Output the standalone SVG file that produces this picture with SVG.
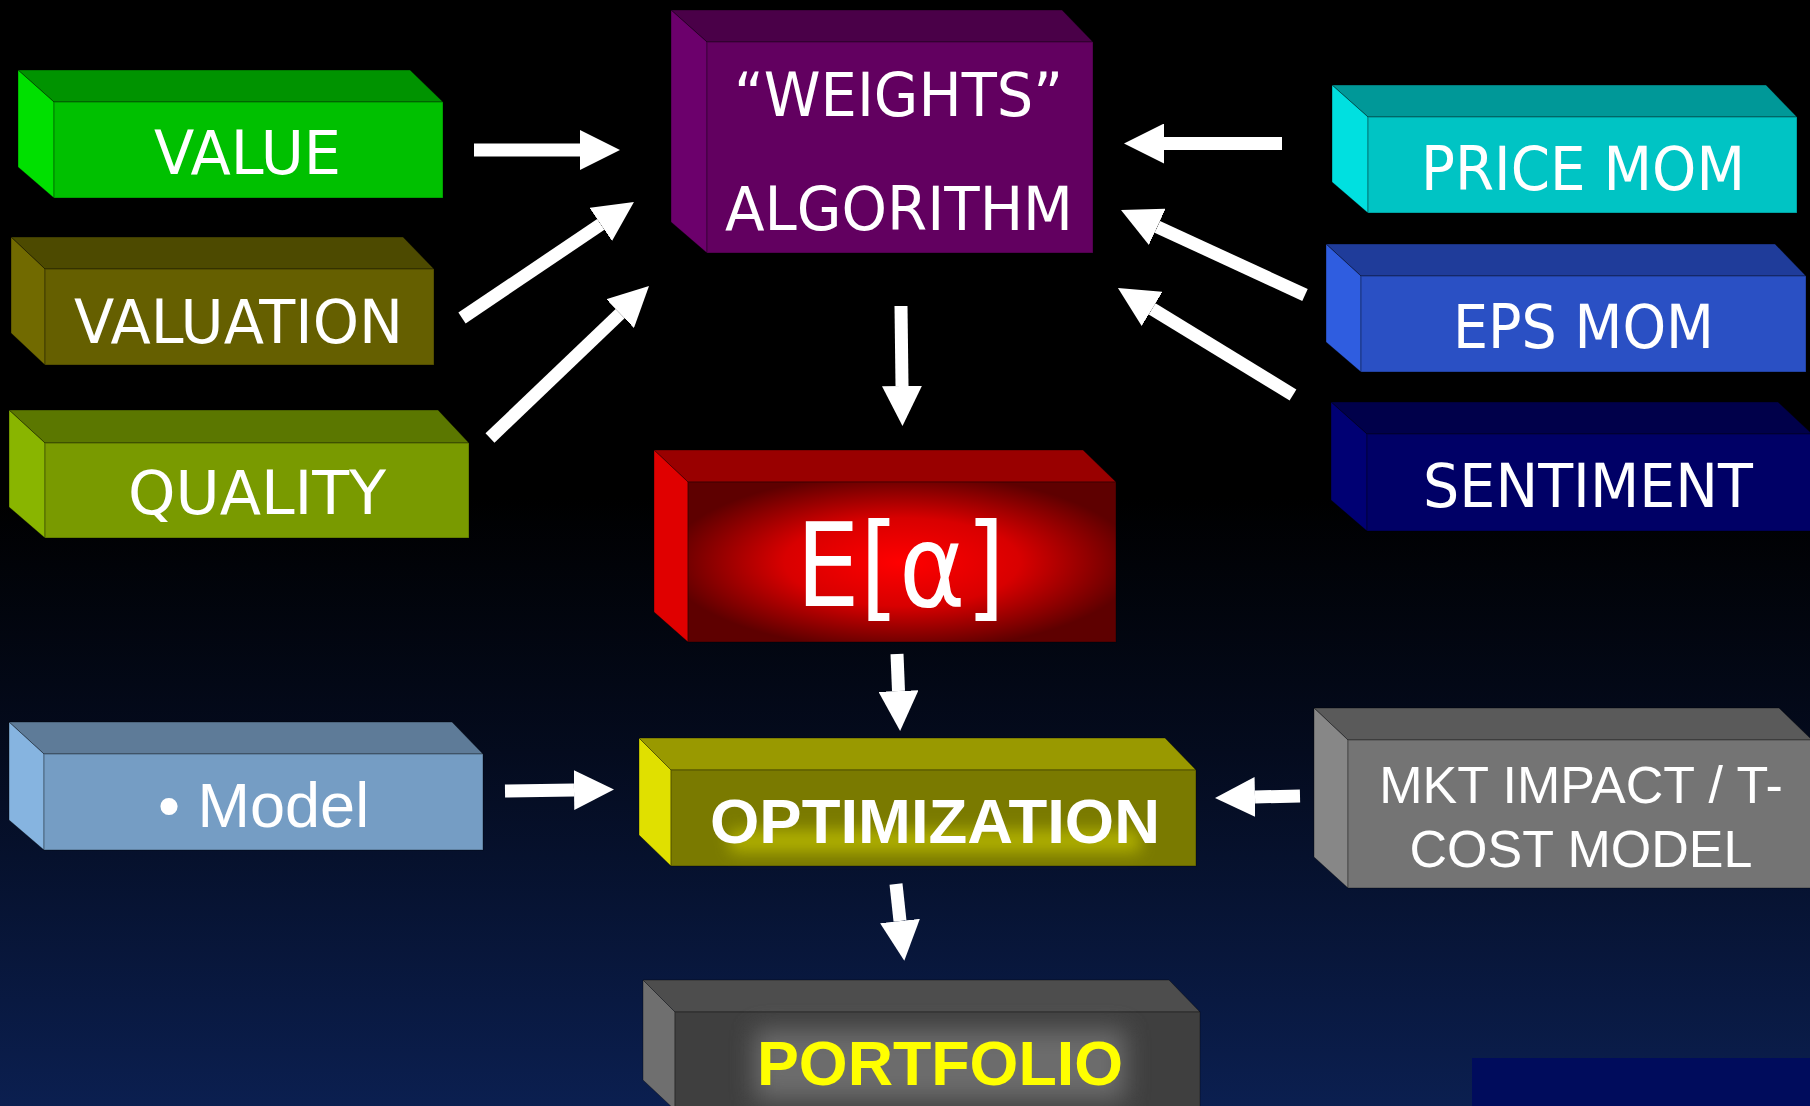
<svg xmlns="http://www.w3.org/2000/svg" width="1810" height="1106" viewBox="0 0 1810 1106">
<defs>
<linearGradient id="bg" x1="0" y1="0" x2="0" y2="1">
<stop offset="0" stop-color="#000000"/>
<stop offset="0.45" stop-color="#000000"/>
<stop offset="0.68" stop-color="#040b1e"/>
<stop offset="1" stop-color="#0b1f50"/>
</linearGradient>
<radialGradient id="redglow" cx="0.5" cy="0.5" r="0.55">
<stop offset="0" stop-color="#ff0000"/>
<stop offset="0.5" stop-color="#d80000"/>
<stop offset="1" stop-color="#5e0000"/>
</radialGradient>
<filter id="blur12" x="-30%" y="-80%" width="160%" height="260%"><feGaussianBlur stdDeviation="12"/></filter>
<filter id="blur8" x="-30%" y="-80%" width="160%" height="260%"><feGaussianBlur stdDeviation="8"/></filter>
<marker id="ah" markerUnits="userSpaceOnUse" markerWidth="40" markerHeight="40" refX="0" refY="20" orient="auto" viewBox="0 0 40 40">
<path d="M0,0 L40,20 L0,40 Z" fill="#ffffff"/>
</marker>
<style>
.lt{font-family:"DejaVu Sans","Liberation Sans",sans-serif;font-size:61px;fill:#ffffff}
.big{font-size:115px}
.ar{font-family:"Liberation Sans",Arial,sans-serif;fill:#ffffff}
.arb{font-family:"Liberation Sans",Arial,sans-serif;font-weight:bold;font-size:63px}
.edge{stroke:rgba(0,0,0,0.35);stroke-width:1}
.conn line{stroke:#ffffff;stroke-width:13;stroke-linecap:butt;marker-end:url(#ah)}
</style>
</defs>
<rect x="0" y="0" width="1810" height="1106" fill="url(#bg)"/>
<rect x="1472" y="1058" width="338" height="48" fill="#000c5c"/>

<g id="value">
<polygon class="edge" points="18,70 410,70 443,102 54,102" fill="#009300"/>
<polygon class="edge" points="18,70 54,102 54,198 18,167" fill="#00e000"/>
<rect class="edge" x="54" y="102" width="389" height="96" fill="#00c000"/>
<text class="lt" x="154" y="174" textLength="187" lengthAdjust="spacingAndGlyphs">VALUE</text>
</g>
<g id="valuation">
<polygon class="edge" points="11,237 403,237 434,269 45,269" fill="#4d4a00"/>
<polygon class="edge" points="11,237 45,269 45,365 11,333" fill="#716a00"/>
<rect class="edge" x="45" y="269" width="389" height="96" fill="#655f00"/>
<text class="lt" x="74" y="343" textLength="329" lengthAdjust="spacingAndGlyphs">VALUATION</text>
</g>
<g id="quality">
<polygon class="edge" points="9,410 438,410 469,443 45,443" fill="#5b7700"/>
<polygon class="edge" points="9,410 45,443 45,538 9,507" fill="#89b500"/>
<rect class="edge" x="45" y="443" width="424" height="95" fill="#799a00"/>
<text class="lt" x="128" y="514" textLength="258" lengthAdjust="spacingAndGlyphs">QUALITY</text>
</g>
<g id="weights">
<polygon class="edge" points="671,10 1062,10 1093,42 707,42" fill="#4a0048"/>
<polygon class="edge" points="671,10 707,42 707,253 671,222" fill="#6c006c"/>
<rect class="edge" x="707" y="42" width="386" height="211" fill="#620060"/>
<text class="lt" x="734" y="116" textLength="329" lengthAdjust="spacingAndGlyphs">“WEIGHTS”</text>
<text class="lt" x="725" y="230" textLength="348" lengthAdjust="spacingAndGlyphs">ALGORITHM</text>
</g>
<g id="pricemom">
<polygon class="edge" points="1332,85 1766,85 1797,117 1368,117" fill="#009898"/>
<polygon class="edge" points="1332,85 1368,117 1368,213 1332,182" fill="#00e0e0"/>
<rect class="edge" x="1368" y="117" width="429" height="96" fill="#00c4c4"/>
<text class="lt" x="1421" y="190" textLength="324" lengthAdjust="spacingAndGlyphs">PRICE MOM</text>
</g>
<g id="epsmom">
<polygon class="edge" points="1326,244 1775,244 1806,276 1361,276" fill="#1f3c9a"/>
<polygon class="edge" points="1326,244 1361,276 1361,372 1326,342" fill="#2f5de0"/>
<rect class="edge" x="1361" y="276" width="445" height="96" fill="#2a50c4"/>
<text class="lt" x="1453" y="348" textLength="261" lengthAdjust="spacingAndGlyphs">EPS MOM</text>
</g>
<g id="sentiment">
<polygon class="edge" points="1331,402 1778,402 1812,434 1367,434" fill="#00004a"/>
<polygon class="edge" points="1331,402 1367,434 1367,531 1331,500" fill="#000073"/>
<rect class="edge" x="1367" y="434" width="445" height="97" fill="#000066"/>
<text class="lt" x="1423" y="507" textLength="330" lengthAdjust="spacingAndGlyphs">SENTIMENT</text>
</g>
<g id="ealpha">
<polygon class="edge" points="654,450 1083,450 1116,482 688,482" fill="#990000"/>
<polygon class="edge" points="654,450 688,482 688,642 654,612" fill="#e00000"/>
<rect class="edge" x="688" y="482" width="428" height="160" fill="url(#redglow)"/>
<text class="lt big" x="796" y="606" textLength="209" lengthAdjust="spacingAndGlyphs">E[α]</text>
</g>
<g id="model">
<polygon class="edge" points="9,722 452,722 483,754 44,754" fill="#5e7b98"/>
<polygon class="edge" points="9,722 44,754 44,850 9,820" fill="#86b4e0"/>
<rect class="edge" x="44" y="754" width="439" height="96" fill="#759dc4"/>
<text class="ar" x="158" y="827" font-size="63">• Model</text>
</g>
<g id="optimization">
<polygon class="edge" points="639,738 1165,738 1196,770 671,770" fill="#999900"/>
<polygon class="edge" points="639,738 671,770 671,866 639,835" fill="#e0e000"/>
<rect class="edge" x="671" y="770" width="525" height="96" fill="#7a7a00"/>
<rect x="730" y="830" width="410" height="22" fill="#c8c800" opacity="0.7" filter="url(#blur8)"/>
<text class="arb" x="710" y="843" fill="#ffffff" textLength="450" lengthAdjust="spacingAndGlyphs">OPTIMIZATION</text>
</g>
<g id="portfolio">
<polygon class="edge" points="643,980 1169,980 1200,1012 675,1012" fill="#4d4d4d"/>
<polygon class="edge" points="643,980 675,1012 675,1110 643,1080" fill="#6f6f6f"/>
<rect class="edge" x="675" y="1012" width="525" height="98" fill="#3f3f3f"/>
<rect x="755" y="1030" width="370" height="70" fill="#757575" opacity="0.85" filter="url(#blur12)"/>
<text class="arb" x="757" y="1085" fill="#ffff00" textLength="366" lengthAdjust="spacingAndGlyphs">PORTFOLIO</text>
</g>
<g id="mktimpact">
<polygon class="edge" points="1314,708 1779,708 1812,740 1348,740" fill="#5a5a5a"/>
<polygon class="edge" points="1314,708 1348,740 1348,888 1314,857" fill="#878787"/>
<rect class="edge" x="1348" y="740" width="464" height="148" fill="#747474"/>
<text class="ar" x="1581" y="803" font-size="52" text-anchor="middle">MKT IMPACT / T-</text>
<text class="ar" x="1581" y="867" font-size="52" text-anchor="middle">COST MODEL</text>
</g>

<g id="connectors" class="conn">
<line x1="474" y1="150" x2="580" y2="150"/>
<line x1="462" y1="318" x2="600.8" y2="224.4"/>
<line x1="490" y1="438" x2="620.1" y2="313.6"/>
<line x1="1282" y1="143.5" x2="1164" y2="143.5"/>
<line x1="1305" y1="295" x2="1157.3" y2="226.8"/>
<line x1="1293" y1="395" x2="1152.1" y2="308.9"/>
<line x1="901" y1="306" x2="902" y2="386"/>
<line x1="897" y1="654" x2="898.5" y2="691"/>
<line x1="505" y1="791" x2="574" y2="790"/>
<line x1="896" y1="884" x2="900" y2="921"/>
<line x1="1300" y1="796" x2="1255" y2="797"/>
</g>
</svg>
